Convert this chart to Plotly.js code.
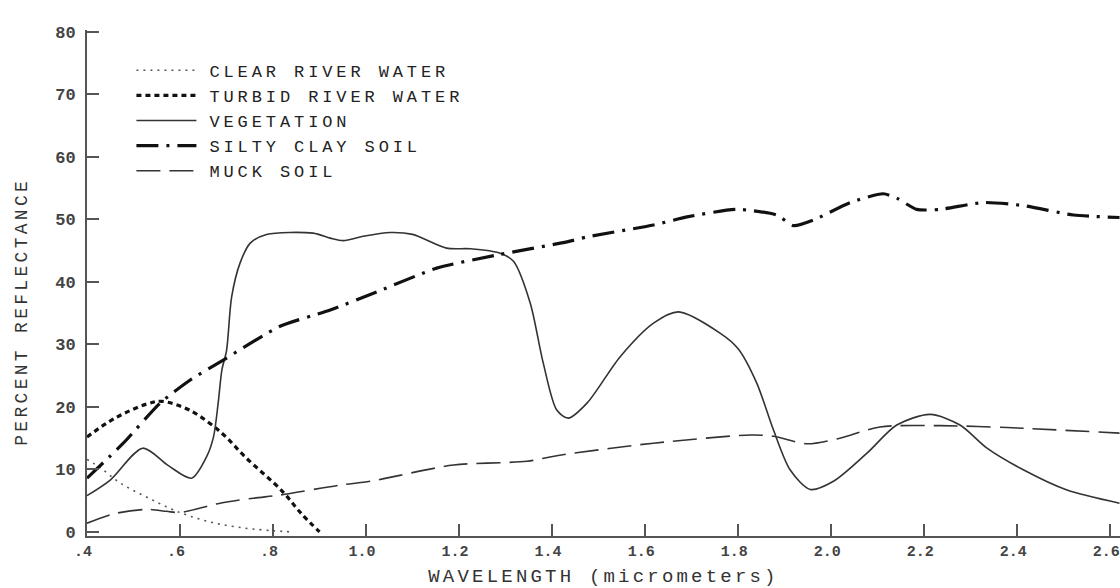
<!DOCTYPE html>
<html>
<head>
<meta charset="utf-8">
<script src="https://cdn.plot.ly/plotly-3.0.1.min.js"></script>
<style>
  html, body { margin: 0; padding: 0; background: #ffffff; }
  #chart { width: 1120px; height: 588px; }
  .legendtext { letter-spacing: 3.9px; transform: translate(8px, 0px); }
  .xtitle { letter-spacing: 3.2px; }
  .annotation-text { letter-spacing: 3.3px; }
</style>
</head>
<body>
<div id="chart"></div>
<script>
// ---- data ----
const clearX = [0.40, 0.43, 0.47, 0.53, 0.60, 0.67, 0.74, 0.80, 0.84];
const clearY = [11.6, 10.2, 7.9, 5.5, 3.1, 1.5, 0.6, 0.2, 0.0];

const turbidX = [0.40, 0.46, 0.53, 0.56, 0.62, 0.69, 0.74, 0.82, 0.86, 0.90];
const turbidY = [15.2, 18.2, 20.5, 20.9, 19.5, 15.8, 12.0, 6.5, 3.0, 0.0];

const vegX = [0.40, 0.45, 0.52, 0.575, 0.625, 0.657, 0.672, 0.682, 0.69, 0.70, 0.711, 0.729, 0.751, 0.786,
              0.886, 0.923, 0.951, 0.994, 1.052, 1.10, 1.173, 1.224, 1.288, 1.317, 1.353, 1.381, 1.41,
              1.435, 1.475, 1.546, 1.618, 1.672, 1.761, 1.80, 1.84, 1.876, 1.912, 1.955, 2.005, 2.077,
              2.141, 2.213, 2.277, 2.335, 2.414, 2.507, 2.62];
const vegY = [5.8, 8.3, 13.4, 10.6, 8.6, 12.0, 15.2, 20.6, 25.9, 29.0, 37.6, 43.0, 46.2, 47.6,
              47.8, 47.0, 46.6, 47.3, 47.9, 47.6, 45.4, 45.3, 44.6, 43.3, 36.6, 27.0, 19.5,
              18.2, 20.6, 28.0, 33.4, 35.2, 31.8, 29.3, 23.8, 16.3, 9.9, 6.8, 8.1, 12.6,
              17.1, 18.8, 17.1, 13.4, 9.9, 6.7, 4.6];

const siltX = [0.40, 0.478, 0.557, 0.622, 0.693, 0.815, 0.923, 1.023, 1.152, 1.281, 1.432, 1.475, 1.618,
               1.69, 1.797, 1.883, 1.919, 1.962, 2.041, 2.112, 2.141, 2.184, 2.234, 2.328, 2.414, 2.521, 2.62];
const siltY = [8.6, 14.2, 20.6, 24.3, 27.5, 32.9, 35.5, 38.4, 42.2, 44.3, 46.4, 47.2, 49.1,
               50.4, 51.6, 50.7, 49.0, 49.9, 52.7, 54.1, 53.4, 51.6, 51.6, 52.7, 52.2, 50.7, 50.3];

const muckX = [0.40, 0.457, 0.528, 0.571, 0.60, 0.686, 0.758, 0.815, 0.944, 1.009, 1.188, 1.346, 1.41,
               1.618, 1.826, 1.876, 1.948, 2.019, 2.105, 2.234, 2.378, 2.62];
const muckY = [1.4, 2.9, 3.6, 3.3, 3.1, 4.6, 5.4, 5.9, 7.5, 8.1, 10.7, 11.3, 12.2,
               14.2, 15.5, 15.3, 14.1, 15.0, 16.8, 17.0, 16.7, 15.8];

const seriesNames = ["CLEAR RIVER WATER", "TURBID RIVER WATER", "VEGETATION", "SILTY CLAY SOIL", "MUCK SOIL"];

const xTickVals = [0.4, 0.6, 0.8, 1.0, 1.2, 1.4, 1.6, 1.8, 2.0, 2.2, 2.4, 2.6];
const xTickText = [".4", ".6", ".8", "1.0", "1.2", "1.4", "1.6", "1.8", "2.0", "2.2", "2.4", "2.6"];
const yTickVals = [0, 10, 20, 30, 40, 50, 60, 70, 80];
const yTickText = ["0", "10", "20", "30", "40", "50", "60", "70", "80"];

const MONO = "Liberation Mono, Courier New, monospace";

const traces = [
  { x: clearX, y: clearY, name: seriesNames[0], mode: "lines",
    line: { color: "#555", width: 1.6, dash: "2px,5px", shape: "spline", smoothing: 1 } },
  { x: turbidX, y: turbidY, name: seriesNames[1], mode: "lines",
    line: { color: "#111", width: 3.2, dash: "5px,4px", shape: "spline", smoothing: 1 } },
  { x: vegX, y: vegY, name: seriesNames[2], mode: "lines",
    line: { color: "#333", width: 1.6, shape: "spline", smoothing: 0.8 } },
  { x: siltX, y: siltY, name: seriesNames[3], mode: "lines",
    line: { color: "#111", width: 3.2, dash: "22px,8px,3px,8px", shape: "spline", smoothing: 0.6 } },
  { x: muckX, y: muckY, name: seriesNames[4], mode: "lines",
    line: { color: "#333", width: 1.6, dash: "24px,9px", shape: "spline", smoothing: 0.8 } }
];

const layout = {
  width: 1120, height: 588,
  margin: { l: 87, r: 0, t: 30, b: 52 },
  paper_bgcolor: "#ffffff", plot_bgcolor: "#ffffff",
  showlegend: true,
  legend: {
    x: 0.043, xanchor: "left", y: 0.955, yanchor: "top",
    bgcolor: "rgba(0,0,0,0)", borderwidth: 0,
    font: { family: MONO, size: 17, color: "#222" },
    itemwidth: 60, traceorder: "normal"
  },
  xaxis: {
    range: [0.4, 2.621], showgrid: false, zeroline: false,
    showline: true, linecolor: "#555", linewidth: 2,
    ticks: "inside", ticklen: 12, tickwidth: 2, tickcolor: "#555",
    tickvals: xTickVals, ticktext: xTickText, ticklabelshift: -4, ticklabeloverflow: "allow",
    tickfont: { family: MONO, size: 15, color: "#444", weight: "bold" },
    title: { text: "WAVELENGTH (micrometers)", standoff: 9,
             font: { family: MONO, size: 19, color: "#333" } }
  },
  yaxis: {
    range: [-0.65, 80.3], showgrid: false, zeroline: false,
    showline: true, linecolor: "#555", linewidth: 2,
    ticks: "inside", ticklen: 12, tickwidth: 2, tickcolor: "#555",
    tickvals: yTickVals, ticktext: yTickText,
    tickfont: { family: MONO, size: 17, color: "#444", weight: "bold" },
    ticklabelstandoff: 6
  },
  annotations: [{
    text: "PERCENT REFLECTANCE", textangle: -90, showarrow: false,
    xref: "paper", yref: "paper", x: -0.063, y: 0.443, xanchor: "center", yanchor: "middle",
    font: { family: MONO, size: 18, color: "#333" }
  }]
};

Plotly.newPlot("chart", traces, layout, { displayModeBar: false, staticPlot: true });
</script>
</body>
</html>
